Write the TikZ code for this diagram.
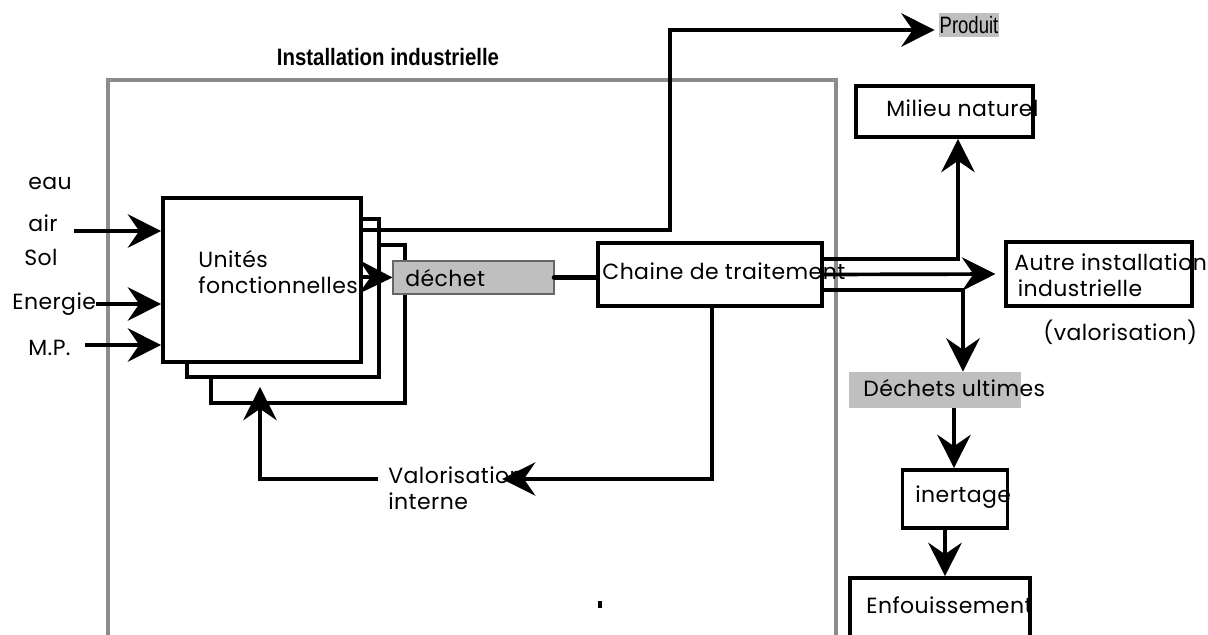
\documentclass[tikz,border=0pt]{standalone}
\usepackage{fontspec}
\setmainfont{Poppins}[LetterSpace=2]
\newfontfamily\titlefont[FakeStretch=0.86]{Liberation Sans}
\newfontfamily\prodfont[FakeStretch=0.78]{Liberation Sans}
\usetikzlibrary{arrows.meta,calc}
\begin{document}
\begin{tikzpicture}[x=0.02cm,y=-0.02cm,
  txt/.style={inner sep=0pt, anchor=west, align=left, font=\fontsize{12.5}{14.7}\selectfont},
  blk/.style={draw=black, line width=2.1pt, fill=white, inner sep=0pt},
  arr/.style={line width=2.1pt, -{Stealth[length=19pt,width=19pt,inset=6.5pt]}},
  thinarr/.style={line width=2pt, -{Stealth[length=19pt,width=19pt,inset=6.5pt]}},
  graybox/.style={fill=black!25, inner sep=0pt}
]
\useasboundingbox (0,0) rectangle (1208,635);

% installation frame
\node[draw=black!45, line width=1.9pt, minimum width=14.56cm, minimum height=12.4cm, inner sep=0pt] (inst) at (472,390) {};
\node[inner sep=0pt, font=\titlefont\bfseries\fontsize{13.5}{15}\selectfont] (title) at (388,57) {Installation industrielle};

% stacked functional units
\node[blk, minimum width=3.88cm, minimum height=3.16cm] (box3) at (308,324) {};
\node[blk, minimum width=3.84cm, minimum height=3.16cm] (box2) at (283,298) {};
\node[blk, minimum width=3.96cm, minimum height=3.28cm] (uf) at (262,280) {};
\node[txt] (uftext) at (198,272) {Unités\\fonctionnelles};

% dechet
\node[graybox, draw=black!60, line width=0.6pt, minimum width=3.22cm, minimum height=0.66cm] (dechet) at (473.5,277.5) {};
\node[txt] (dechettext) at (405,278) {déchet};

% chaine
\node[blk, minimum width=4.48cm, minimum height=1.26cm] (chaine) at (710,274.5) {};
\node[txt] (chainetext) at (602,271) {Chaine de traitement};

% right side
\node[blk, minimum width=3.54cm, minimum height=1.02cm] (milieu) at (944.5,111.5) {};
\node[txt] (milieutext) at (886,108) {Milieu naturel};
\node[blk, minimum width=3.72cm, minimum height=1.28cm] (autre) at (1099,274) {};
\node[txt] (autretext) at (1014,275) {Autre installation\\\hspace*{2pt}industrielle};
\node[txt] (valor) at (1043,332) {(valorisation)};
\node[graybox, minimum width=3.44cm, minimum height=0.72cm] (dult) at (935,390) {};
\node[txt] (dulttext) at (863,388) {Déchets ultimes};
\node[blk, minimum width=2.1cm, minimum height=1.16cm] (inert) at (955,499) {};
\node[txt] (inerttext) at (915,497) {inertage};
\node[blk, minimum width=3.6cm, minimum height=2.04cm] (enf) at (940,629) {};
\node[txt] (enftext) at (866,605) {Enfouissement};

% produit
\node[graybox, minimum width=1.2cm, minimum height=0.48cm] (prod) at (969,25) {};
\node[inner sep=0pt, font=\prodfont\fontsize{13.5}{15}\selectfont] (prodtext) at (969,25) {Produit};

% inputs
\node[txt] (eau) at (28,183) {eau};
\node[txt] (air) at (28,223) {air};
\node[txt] (sol) at (24,257) {Sol};
\node[txt] (energie) at (12,304) {Energie};
\node[txt] (mp) at (28,348) {M.P.};

\coordinate (inA) at (74,231);
\coordinate (inM) at (85,345);
\draw[arr] (inA) -- (inA -| uf.west);
\draw[arr] (energie.east) -- (energie.east -| uf.west);
\draw[arr] (inM) -- (inM -| uf.west);

% outputs of functional units
\draw[arr] ($(uf.north east)+(0,34)$) -- ++(307,0) |- ($(prod.west)+(-4,5)$);
\draw[arr] ($(uf.east)+(0,-3)$) -- (dechet.west);
\draw[line width=3.2pt, line cap=round] (dechet.east) -- (dechet.east -| chaine.west);

% outputs of chaine
\draw[arr] ($(chaine.east)+(0,-15.5)$) -| ($(milieu.south)+(13.5,0)$);
\draw[arr, shorten >=5pt] (chaine.east) -- (autre.west);
\draw[thinarr] ($(chaine.east)+(0,15.5)$) -| ($(dult.north)+(28,0)$);
\coordinate (d1) at ($(inert.north)+(-1,0)$);
\draw[arr] (d1 |- dult.south) -- (d1);
\coordinate (d2) at ($(inert.south)+(-10,0)$);
\draw[arr] (d2) -- (d2 |- enf.north);

% internal valorisation
\node[txt] (valo) at (388,488) {Valorisation\\interne};
\coordinate (vtip) at (502,479);
\coordinate (vleft) at (378,479);
\draw[thinarr] ($(chaine.south)+(2,0)$) |- (vtip);
\draw[arr] (vleft) -| ($(box3.south)+(-48,-18)$);

% stray tick
\draw[line width=1.9pt] (600,601) -- (600,608);
\end{tikzpicture}
\end{document}
